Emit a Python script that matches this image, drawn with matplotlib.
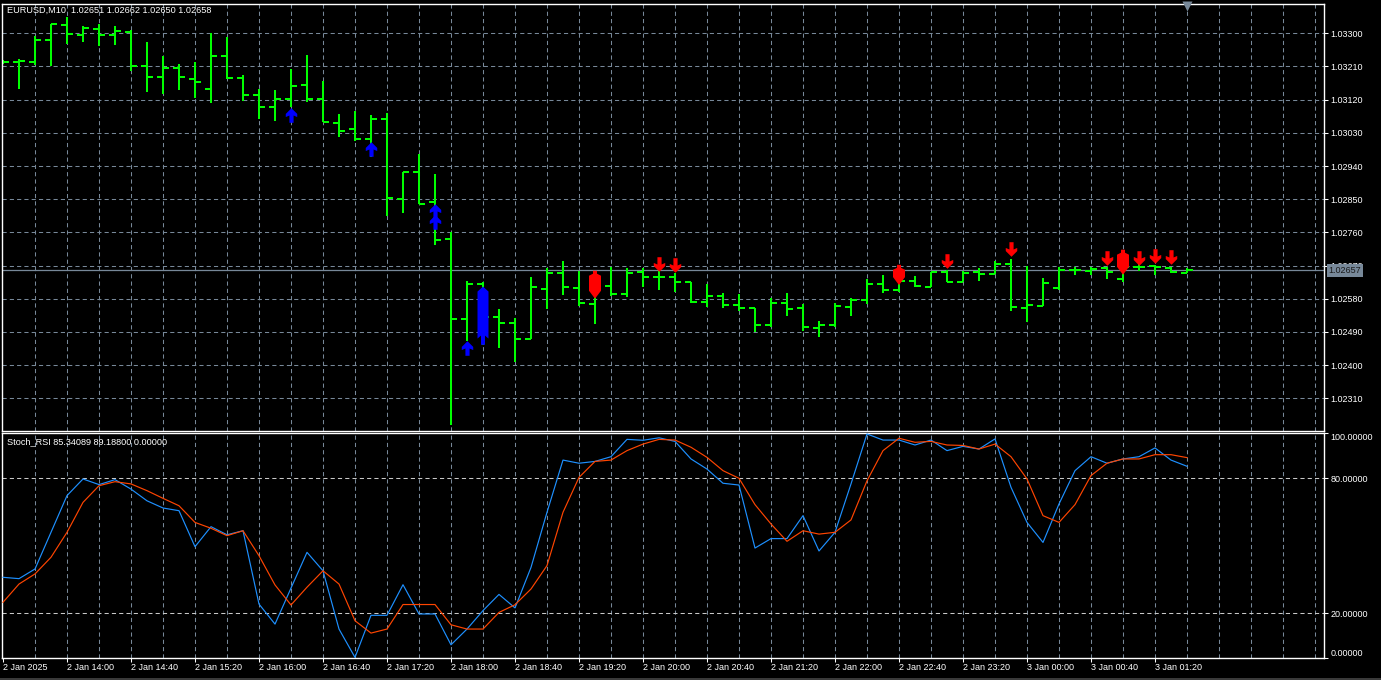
import numpy as np
import pandas as pd
import matplotlib
matplotlib.use("Agg")
import matplotlib.pyplot as plt
from matplotlib.path import Path
from matplotlib.patches import Polygon, Rectangle
from matplotlib.transforms import blended_transform_factory

plt.rcParams['font.family'] = ['Liberation Sans', 'DejaVu Sans']

# ---------------- data ----------------
title_main = "EURUSD,M10  1.02651 1.02662 1.02650 1.02658"
title_stoch = "Stoch_RSI 85.34089 89.18800 0.00000"
first_bar_time = "2025-01-02 13:20"
bar_freq = "10min"

opens = [1.03221, 1.03221, 1.03223, 1.03282, 1.03322, 1.03295, 1.03312, 1.03295, 1.03304, 1.03212,
         1.03182, 1.03207, 1.03177, 1.03149, 1.03239, 1.03180, 1.03133, 1.03101, 1.03123, 1.03160,
         1.03123, 1.03058, 1.03041, 1.03013, 1.03068, 1.02851, 1.02923, 1.02843, 1.02742, 1.02525,
         1.02621, 1.02531, 1.02515, 1.02472, 1.02607, 1.02651, 1.02610, 1.02566, 1.02615, 1.02593,
         1.02652, 1.02640, 1.02640, 1.02626, 1.02572, 1.02588, 1.02563, 1.02556, 1.02509, 1.02569,
         1.02556, 1.02501, 1.02509, 1.02558, 1.02577, 1.02621, 1.02604, 1.02629, 1.02613, 1.02653,
         1.02626, 1.02652, 1.02646, 1.02675, 1.02556, 1.02560, 1.02608, 1.02659, 1.02656, 1.02663,
         1.02634, 1.02666, 1.02668, 1.02664, 1.02651]
highs = [1.03228, 1.03230, 1.03293, 1.03324, 1.03343, 1.03320, 1.03325, 1.03320, 1.03309, 1.03276,
         1.03238, 1.03217, 1.03222, 1.03300, 1.03289, 1.03187, 1.03148, 1.03146, 1.03202, 1.03241,
         1.03171, 1.03081, 1.03089, 1.03078, 1.03085, 1.02923, 1.02973, 1.02918, 1.02762, 1.02628,
         1.02625, 1.02552, 1.02529, 1.02638, 1.02664, 1.02682, 1.02655, 1.02652, 1.02667, 1.02663,
         1.02664, 1.02655, 1.02649, 1.02626, 1.02619, 1.02595, 1.02592, 1.02556, 1.02581, 1.02595,
         1.02566, 1.02520, 1.02568, 1.02581, 1.02634, 1.02644, 1.02672, 1.02642, 1.02653, 1.02658,
         1.02656, 1.02663, 1.02682, 1.02687, 1.02669, 1.02637, 1.02665, 1.02665, 1.02665, 1.02665,
         1.02680, 1.02673, 1.02672, 1.02665, 1.02662]
lows = [1.03217, 1.03148, 1.03214, 1.03212, 1.03270, 1.03277, 1.03266, 1.03268, 1.03199, 1.03142,
        1.03135, 1.03146, 1.03125, 1.03110, 1.03175, 1.03116, 1.03067, 1.03063, 1.03101, 1.03114,
        1.03059, 1.03020, 1.03009, 1.02965, 1.02804, 1.02813, 1.02837, 1.02726, 1.02238, 1.02466,
        1.02455, 1.02447, 1.02409, 1.02471, 1.02552, 1.02590, 1.02561, 1.02511, 1.02587, 1.02586,
        1.02613, 1.02604, 1.02599, 1.02568, 1.02558, 1.02554, 1.02547, 1.02491, 1.02503, 1.02533,
        1.02493, 1.02477, 1.02504, 1.02533, 1.02566, 1.02596, 1.02598, 1.02613, 1.02611, 1.02625,
        1.02625, 1.02629, 1.02646, 1.02547, 1.02517, 1.02560, 1.02604, 1.02644, 1.02644, 1.02634,
        1.02626, 1.02656, 1.02644, 1.02649, 1.02650]
closes = [1.03221, 1.03225, 1.03282, 1.03324, 1.03297, 1.03314, 1.03295, 1.03306, 1.03212, 1.03182,
          1.03207, 1.03182, 1.03169, 1.03239, 1.03178, 1.03133, 1.03101, 1.03123, 1.03157, 1.03123,
          1.03059, 1.03036, 1.03013, 1.03068, 1.02854, 1.02923, 1.02838, 1.02739, 1.02526, 1.02619,
          1.02531, 1.02515, 1.02472, 1.02613, 1.02649, 1.02613, 1.02569, 1.02615, 1.02593, 1.02649,
          1.02640, 1.02640, 1.02626, 1.02572, 1.02588, 1.02563, 1.02556, 1.02509, 1.02569, 1.02552,
          1.02504, 1.02509, 1.02561, 1.02577, 1.02619, 1.02604, 1.02629, 1.02615, 1.02653, 1.02626,
          1.02651, 1.02646, 1.02675, 1.02558, 1.02563, 1.02622, 1.02659, 1.02659, 1.02661, 1.02653,
          1.02666, 1.02666, 1.02665, 1.02652, 1.02658]

stoch_main = [36.0, 35.4, 39.7, 56.0, 72.3, 79.7, 77.2, 79.4, 75.2, 70.0,
              66.8, 65.6, 49.6, 58.5, 54.9, 56.7, 24.1, 15.2, 31.2, 47.1,
              38.9, 13.0, 0.4, 19.1, 19.1, 32.7, 19.7, 19.7, 6.0, 13.0,
              21.2, 28.4, 22.4, 40.4, 64.9, 88.1, 86.7, 87.5, 89.6, 97.3,
              96.9, 98.0, 96.4, 88.6, 84.1, 77.8, 77.0, 49.0, 53.2, 53.2,
              63.4, 47.7, 56.0, 77.5, 99.7, 97.0, 97.0, 94.8, 97.0, 92.3,
              94.2, 93.0, 97.5, 76.0, 60.4, 51.5, 68.6, 83.4, 89.6, 86.7,
              88.6, 89.6, 93.5, 88.1, 85.34]
stoch_signal = [24.9, 33.0, 37.5, 44.9, 56.0, 69.3, 76.7, 78.5, 77.5, 74.5,
                71.1, 67.8, 60.4, 57.8, 54.5, 56.7, 45.6, 32.6, 23.7, 31.6,
                38.9, 33.0, 16.7, 11.2, 13.0, 23.9, 23.9, 23.9, 14.9, 13.0,
                13.0, 20.4, 23.8, 30.8, 41.2, 64.9, 80.4, 87.5, 88.1, 92.3,
                95.2, 97.3, 97.0, 93.8, 89.3, 83.4, 80.0, 68.3, 59.7, 52.0,
                56.7, 55.2, 56.0, 61.5, 78.9, 92.3, 97.8, 96.0, 96.4, 94.8,
                94.6, 93.0, 95.2, 89.6, 79.7, 63.4, 60.4, 68.3, 81.2, 86.7,
                88.6, 88.6, 90.5, 90.5, 89.19]

price_ticks = [1.02310, 1.02400, 1.02490, 1.02580, 1.02670, 1.02760,
               1.02850, 1.02940, 1.03030, 1.03120, 1.03210, 1.03300]
stoch_ticks = [0, 20, 80, 100]
stoch_levels = [20, 80]
bid_price = 1.02657

time_tick_times = ["2025-01-02 13:20", "2025-01-02 14:00", "2025-01-02 14:40", "2025-01-02 15:20",
                   "2025-01-02 16:00", "2025-01-02 16:40", "2025-01-02 17:20", "2025-01-02 18:00",
                   "2025-01-02 18:40", "2025-01-02 19:20", "2025-01-02 20:00", "2025-01-02 20:40",
                   "2025-01-02 21:20", "2025-01-02 22:00", "2025-01-02 22:40", "2025-01-02 23:20",
                   "2025-01-03 00:00", "2025-01-03 00:40", "2025-01-03 01:20"]
time_tick_labels = ["2 Jan 2025", "2 Jan 14:00", "2 Jan 14:40", "2 Jan 15:20", "2 Jan 16:00",
                    "2 Jan 16:40", "2 Jan 17:20", "2 Jan 18:00", "2 Jan 18:40", "2 Jan 19:20",
                    "2 Jan 20:00", "2 Jan 20:40", "2 Jan 21:20", "2 Jan 22:00", "2 Jan 22:40",
                    "2 Jan 23:20", "3 Jan 00:00", "3 Jan 00:40", "3 Jan 01:20"]

# indicator signals (bar index, price)
up_arrow_bars = [18, 23, 27, 27, 29]
up_arrow_prices = [1.03077, 1.02986, 1.02819, 1.02789, 1.02446]
down_arrow_bars = [41, 42, 59, 63, 69, 71, 72, 73]
down_arrow_prices = [1.02674, 1.02671, 1.02683, 1.02715, 1.02690, 1.02690, 1.02697, 1.02694]
up_block_bars = [30]
up_block_tops = [1.02613]
up_block_bottoms = [1.02480]
up_block_tails = [1.02455]
down_block_bars = [37, 56, 70]
down_block_tops = [1.02656, 1.02672, 1.02713]
down_block_bottoms = [1.02580, 1.02617, 1.02645]

# ---------------- styling / layout ----------------
W, H, DPI = 1381, 680, 100
BG = "black"
FG = "white"
GRID = "#778899"
BAR = "#00FF00"
FS = 6.5
px_pt = 72.0 / DPI

fig = plt.figure(figsize=(W / DPI, H / DPI), dpi=DPI, facecolor=BG)

def fx(p): return p / W
def fy(p): return 1 - p / H

main_top, main_bot = 3.5, 431.0
st_top, st_bot = 433.3, 658.3
left_px, right_px = 2.0, 1324.0

ax = fig.add_axes([fx(left_px), fy(main_bot), (right_px - left_px) / W, (main_bot - main_top) / H])
axs = fig.add_axes([fx(left_px), fy(st_bot), (right_px - left_px) / W, (st_bot - st_top) / H])

bar_times = pd.date_range(first_bar_time, periods=len(opens), freq=bar_freq)
x = np.arange(len(opens))
px_per_bar = 16.0
x_left = -(3 - left_px) / px_per_bar
x_right = (right_px - 3) / px_per_bar

price_lo, price_hi = 1.022212, 1.033808
for a in (ax, axs):
    a.set_facecolor(BG)
    a.set_xlim(x_left, x_right)
    for s in a.spines.values():
        s.set_color(FG)
        s.set_linewidth(1.0)
ax.set_ylim(price_lo, price_hi)
axs.set_ylim(0, 100)

dash = (0, (4 * px_pt / 0.72 * 0.72 / px_pt * px_pt / 0.72, 3.0))
grid_kw = dict(color=GRID, lw=0.75, ls=(0, (4.0, 3.0)), zorder=0.5)
grid_x = np.arange(2, int(x_right) + 1, 2)
for gx in grid_x:
    ax.axvline(gx, **grid_kw)
    axs.axvline(gx, **grid_kw)
for p in price_ticks:
    ax.axhline(p, **grid_kw)
for lv in stoch_levels:
    axs.axhline(lv, color="#C8C8C8", lw=0.75, ls=(0, (4.0, 3.0)), zorder=0.6)

# bid line
ax.axhline(bid_price, color=GRID, lw=0.9, zorder=1)

# OHLC bars
tick_w = 6.0 / px_per_bar
ax.vlines(x, lows, highs, color=BAR, lw=2 * px_pt, zorder=2, capstyle="butt")
ax.hlines(opens, x - tick_w, x, color=BAR, lw=2 * px_pt, zorder=2, capstyle="butt")
ax.hlines(closes, x, x + tick_w, color=BAR, lw=2 * px_pt, zorder=2, capstyle="butt")

# arrow markers
up_verts = [(0, 7), (5.5, 1.5), (5.5, -1.5), (2, 0), (2, -7), (-2, -7), (-2, 0),
            (-5.5, -1.5), (-5.5, 1.5), (0, 7)]
codes = [Path.MOVETO] + [Path.LINETO] * 8 + [Path.CLOSEPOLY]
up_path = Path(up_verts, codes)
down_path = Path([(vx, -vy) for vx, vy in up_verts], codes)
ax.plot(up_arrow_bars, up_arrow_prices, ls="none", marker=up_path, ms=10.5,
        mfc="#0000FF", mec="none", zorder=4)
ax.plot(down_arrow_bars, down_arrow_prices, ls="none", marker=down_path, ms=10.5,
        mfc="#FF0000", mec="none", zorder=4)

pxx = 1.0 / px_per_bar
pxy = (price_hi - price_lo) / (main_bot - main_top)
for b, T, B, L in zip(up_block_bars, up_block_tops, up_block_bottoms, up_block_tails):
    v = [(b, T), (b + 5.5 * pxx, T - 5 * pxy), (b + 5.5 * pxx, B - 3 * pxy), (b + 2 * pxx, B),
         (b + 2 * pxx, L), (b - 2 * pxx, L), (b - 2 * pxx, B), (b - 5.5 * pxx, B - 3 * pxy),
         (b - 5.5 * pxx, T - 5 * pxy)]
    ax.add_patch(Polygon(v, closed=True, fc="#0000FF", ec="none", zorder=4))
for b, T, B in zip(down_block_bars, down_block_tops, down_block_bottoms):
    v = [(b - 2 * pxx, T), (b + 2 * pxx, T), (b + 2 * pxx, T - 3 * pxy), (b + 6 * pxx, T - 5 * pxy),
         (b + 6 * pxx, B + 8 * pxy), (b, B), (b - 6 * pxx, B + 8 * pxy), (b - 6 * pxx, T - 5 * pxy),
         (b - 2 * pxx, T - 3 * pxy)]
    ax.add_patch(Polygon(v, closed=True, fc="#FF0000", ec="none", zorder=4))

# shift marker
ax.plot([len(opens) - 1], [1 - 2.5 / (main_bot - main_top)], marker="v", ms=7, color=GRID,
        mec="none", transform=blended_transform_factory(ax.transData, ax.transAxes),
        clip_on=False, zorder=5)

# stochastic lines
axs.plot(x, stoch_main, color="#1E90FF", lw=0.85, zorder=3)
axs.plot(x, stoch_signal, color="#FF4500", lw=0.85, zorder=3.1)

# axes ticks
for a in (ax, axs):
    a.yaxis.tick_right()
    a.tick_params(axis="y", colors=FG, labelcolor=FG, labelsize=FS, length=4 * px_pt,
                  width=0.75, pad=2.0, direction="out")
ax.set_yticks(price_ticks)
ax.set_yticklabels([f"{p:.5f}" for p in price_ticks])
ax.tick_params(axis="x", bottom=False, labelbottom=False)

axs.set_yticks(stoch_ticks)
axs.set_yticklabels([f"{v:.5f}" for v in stoch_ticks])
for lab, v in zip(axs.get_yticklabels(), stoch_ticks):
    if v == 100:
        lab.set_verticalalignment("top")
    elif v == 0:
        lab.set_verticalalignment("bottom")

tick_pos = bar_times.get_indexer(pd.to_datetime(time_tick_times))
axs.set_xticks(tick_pos)
axs.set_xticklabels(time_tick_labels)
axs.tick_params(axis="x", colors=FG, labelcolor=FG, labelsize=FS, length=4 * px_pt,
                width=0.75, pad=0.3, direction="out")
for lab in axs.get_xticklabels():
    lab.set_horizontalalignment("left")

# titles
fig.text(fx(7), fy(5.5), title_main, color=FG, fontsize=6.6, ha="left", va="top")
fig.text(fx(7), fy(437.5), title_stoch, color=FG, fontsize=6.6, ha="left", va="top")

# bid price label box
ax.text(1 + 4.5 / (right_px - left_px), bid_price, f"{bid_price:.5f}",
        transform=blended_transform_factory(ax.transAxes, ax.transData),
        ha="left", va="center", fontsize=FS, color="#1a1a1a", clip_on=False, zorder=10,
        bbox=dict(boxstyle="square,pad=0.22", fc=GRID, ec="none"))

# bottom window strip
fig.patches.append(Rectangle((0, 0), 1, 2.5 / H, transform=fig.transFigure,
                             fc="#3a3a3a", ec="none", zorder=0))

fig.savefig("out.png", dpi=DPI, facecolor=BG)
